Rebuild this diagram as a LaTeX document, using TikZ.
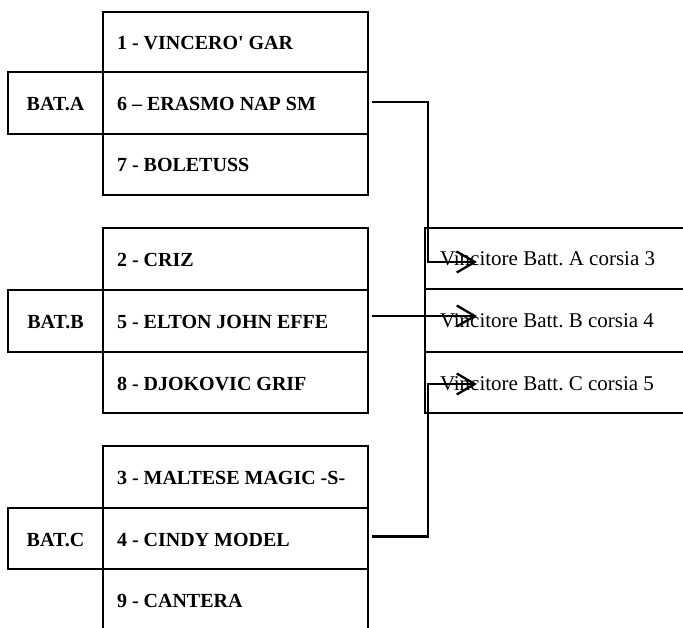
\documentclass[tikz,border=0pt]{standalone}
\usepackage{fontspec}
\setmainfont{Liberation Serif}[Ligatures=TeXOff]
\usetikzlibrary{arrows.meta}
\newcommand{\boldcell}{\fontsize{20}{24}\selectfont\bfseries\frenchspacing}
\newcommand{\plaincell}{\fontsize{21}{25}\selectfont\frenchspacing}
\newcommand{\nsp}[1]{{\spaceskip=0pt\xspaceskip=0pt\relax #1}}
\begin{document}
\begin{tikzpicture}[x=1pt,y=-1pt,
  every node/.style={inner sep=0pt,outer sep=0pt,text height=15pt,text depth=0pt},
  cell/.style={draw,line width=2.2pt,anchor=north west,minimum width=265pt,
    text width=237pt,inner xsep=14pt,align=left,font=\boldcell},
  batbox/.style={draw,line width=2.2pt,anchor=north west,minimum width=95pt,
    align=center,font=\boldcell},
  winbox/.style={draw,line width=2.2pt,anchor=north west,minimum width=320pt,
    text width=290pt,inner xsep=15pt,align=left,font=\plaincell},
  conn/.style={line width=2.3pt,-{Straight Barb[length=18pt,width=21pt,line width=2.3pt]}}]
\useasboundingbox (0,0) rectangle (683,628);
\clip (0,0) rectangle (683,628);
% group A
\node[cell,minimum height=60pt] (a1) at (103,12) {\nsp{1 - VINCERO' GAR}};
\node[cell,minimum height=62pt] (a2) at (103,72) {\nsp{6 – ERASMO NAP SM}};
\node[cell,minimum height=61pt] (a3) at (103,134) {\nsp{7 - BOLETUSS}};
\node[batbox,minimum height=62pt] (ba) at (8,72) {BAT.A};
% group B
\node[cell,minimum height=62pt] (b1) at (103,228) {\nsp{2 - CRIZ}};
\node[cell,minimum height=62pt] (b2) at (103,290) {\nsp{5 - ELTON JOHN EFFE}};
\node[cell,minimum height=61pt] (b3) at (103,352) {\nsp{8 - DJOKOVIC GRIF}};
\node[batbox,minimum height=62pt] (bb) at (8,290) {BAT.B};
% group C
\node[cell,minimum height=62pt] (c1) at (103,446) {\nsp{3 - MALTESE MAGIC -S-}};
\node[cell,minimum height=61pt] (c2) at (103,508) {\nsp{4 - CINDY MODEL}};
\node[cell,minimum height=62pt] (c3) at (103,569) {\nsp{9 - CANTERA}};
\node[batbox,minimum height=61pt] (bc) at (8,508) {BAT.C};
% winners
\node[winbox,minimum height=61pt] (r1) at (425,228) {\nsp{Vincitore Batt. A corsia 3}};
\node[winbox,minimum height=63pt] (r2) at (425,289) {\nsp{Vincitore Batt. B corsia 4}};
\node[winbox,minimum height=61pt] (r3) at (425,352) {\nsp{Vincitore Batt. C corsia 5}};
% arrow tips
\coordinate (tA) at (477,262);
\coordinate (tB) at (477,316);
\coordinate (tC) at (477,384);
\draw[conn] ([xshift=4pt,yshift=1pt]a2.east) -- ++(56,0) |- (tA);
\draw[conn] ([xshift=4pt,yshift=5pt]b2.east) -- (tB);
\draw[conn] ([xshift=4pt,yshift=2pt]c2.east) -- ++(56,0) |- (tC);
\end{tikzpicture}
\end{document}
